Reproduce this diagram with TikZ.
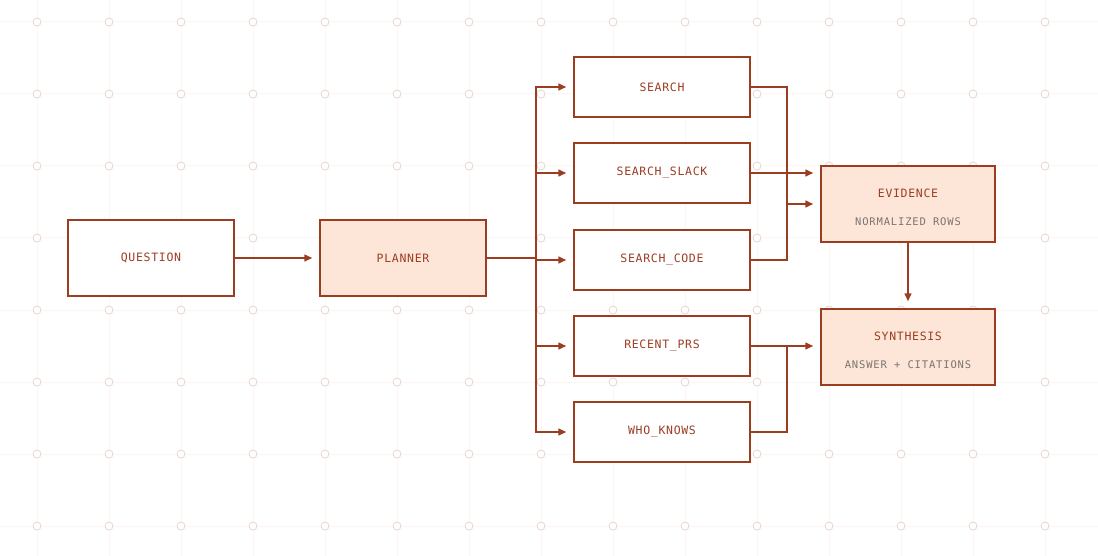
\documentclass[tikz,border=0pt]{standalone}
\usepackage{fontspec}
\newfontfamily\boxfont{DejaVu Sans Mono}[LetterSpace=6]
\newfontfamily\notefont{DejaVu Sans Mono}[LetterSpace=8]
\usetikzlibrary{arrows.meta}
\definecolor{rust}{HTML}{9C3D22}
\definecolor{peach}{HTML}{FDE6D8}
\definecolor{inkgray}{HTML}{7B7470}
\definecolor{gridline}{HTML}{FCF5F2}
\definecolor{griddot}{HTML}{E8D6CF}

\begin{document}
\begin{tikzpicture}[x=1pt, y=-1pt,
  toolbox/.style={draw=rust, line width=1.5pt, fill=white, text=rust,
    minimum width=176pt, minimum height=60pt, font=\boxfont\fontsize{11.5}{13}\selectfont},
  stagebox/.style={toolbox, minimum width=166pt, minimum height=76pt},
  hotbox/.style={stagebox, fill=peach},
  outbox/.style={hotbox, minimum width=174pt},
  title/.style={text=rust, font=\boxfont\fontsize{11.5}{13}\selectfont},
  note/.style={text=inkgray, font=\notefont\fontsize{10.5}{12}\selectfont},
  link/.style={draw=rust, line width=1.5pt},
  flow/.style={link, -{Triangle[length=8pt, width=7pt]}, shorten >=7pt},
]
  % background grid
  \useasboundingbox (0,0) rectangle (1098,556);
  \foreach \x in {37,109,...,1045} \draw[gridline, line width=1pt] (\x,0) -- (\x,556);
  \foreach \y in {22,94,...,526} \draw[gridline, line width=1pt] (0,\y) -- (1098,\y);
  \foreach \x in {37,109,...,1045}
    \foreach \y in {22,94,...,526}
      \filldraw[draw=griddot, fill=white, line width=0.8pt] (\x,\y) circle (4pt);

  % stages
  \node[stagebox] (question) at (151,258) {QUESTION};
  \node[hotbox]   (planner)  at (403,258) {PLANNER};

  % tools
  \node[toolbox] (search) at (662,87)  {SEARCH};
  \node[toolbox] (slack)  at (662,173) {SEARCH\_SLACK};
  \node[toolbox] (code)   at (662,260) {SEARCH\_CODE};
  \node[toolbox] (prs)    at (662,346) {RECENT\_PRS};
  \node[toolbox] (who)    at (662,432) {WHO\_KNOWS};

  % outputs
  \node[outbox] (evidence)  at (908,204) {};
  \node[outbox] (synthesis) at (908,347) {};
  \node[title] at ([yshift=11pt]evidence.center)  {EVIDENCE};
  \node[note]  at ([yshift=-18pt]evidence.center) {NORMALIZED ROWS};
  \node[title] at ([yshift=11pt]synthesis.center)  {SYNTHESIS};
  \node[note]  at ([yshift=-18pt]synthesis.center) {ANSWER + CITATIONS};

  \coordinate (fork)  at (536,258);
  \coordinate (joinA) at (787,204);
  \coordinate (joinB) at (787,346);

  \draw[flow] (question) -- (planner);
  \draw[link] (planner.east) -- (fork);
  \foreach \t in {search,slack,code,prs,who}
    \draw[flow] (fork) |- (\t.west);

  \draw[link] (search.east) -| (joinA);
  \draw[link] (code.east) -| (joinA);
  \draw[flow] (joinA) -- (evidence.west);
  \draw[flow] (slack.east) -- (slack.east -| evidence.west);

  \draw[flow] (prs.east) -- (prs.east -| synthesis.west);
  \draw[link] (who.east) -| (joinB);

  \draw[flow] (evidence) -- (synthesis);
\end{tikzpicture}
\end{document}
